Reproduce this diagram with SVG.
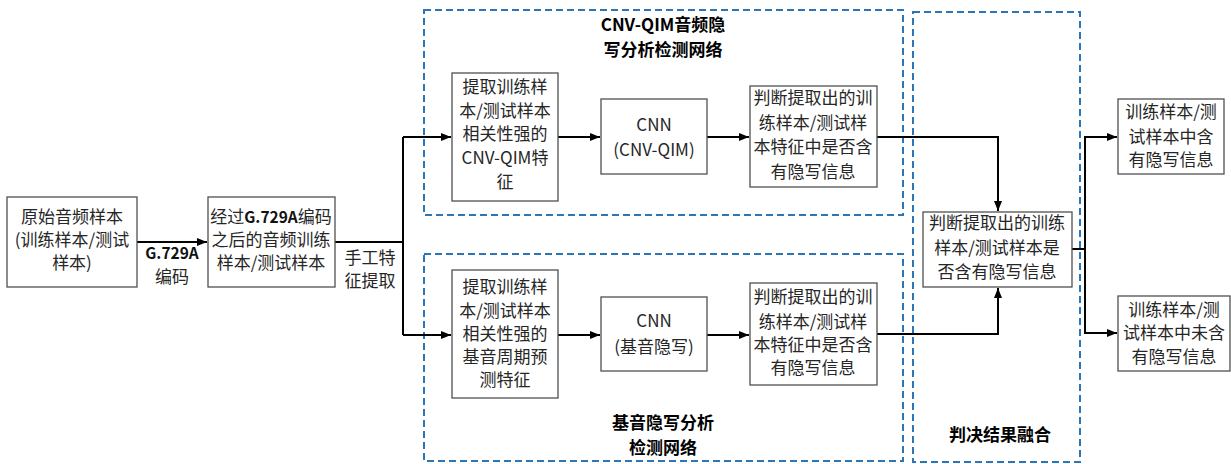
<svg xmlns="http://www.w3.org/2000/svg" width="1231" height="464" viewBox="0 0 1231 464">
<defs>
<style>
.box{fill:#fff;stroke:#505050;stroke-width:1.3}
.grp{fill:none;stroke:#2e75b6;stroke-width:2;stroke-dasharray:7 4}
.t{font-family:"Noto Sans CJK SC","Noto Sans",sans-serif;font-size:17px;fill:#262626;text-anchor:middle}
.b{font-weight:bold;fill:#000}
.g{font-weight:bold;fill:#111;font-size:15.5px}
.c{fill:none;stroke:#000;stroke-width:2}
</style>
<marker id="ah" markerWidth="10" markerHeight="8" refX="10" refY="4" orient="auto" markerUnits="userSpaceOnUse">
<path d="M0,0 L10,4 L0,8 Z" fill="#000"/>
</marker>
</defs>
<rect width="1231" height="464" fill="#fff"/>

<g id="group-cnv">
<rect class="grp" x="424" y="10" width="479" height="205"/>
<text class="t b" x="663" y="31">CNV-QIM音频隐</text>
<text class="t b" x="663" y="56">写分析检测网络</text>
</g>
<g id="group-pitch">
<rect class="grp" x="424" y="254" width="479" height="207"/>
<text class="t b" x="663" y="429">基音隐写分析</text>
<text class="t b" x="663" y="454">检测网络</text>
</g>
<g id="group-fusion">
<rect class="grp" x="913" y="12" width="167" height="450"/>
<text class="t b" x="1000" y="441">判决结果融合</text>
</g>

<g id="connectors">
<line class="c" x1="137" y1="242" x2="207" y2="242" marker-end="url(#ah)"/>
<line class="c" x1="335" y1="242" x2="403" y2="242"/>
<polyline class="c" points="403,137 403,335"/>
<line class="c" x1="403" y1="137" x2="451" y2="137" marker-end="url(#ah)"/>
<line class="c" x1="403" y1="335" x2="451" y2="335" marker-end="url(#ah)"/>
<line class="c" x1="558" y1="137" x2="600" y2="137" marker-end="url(#ah)"/>
<line class="c" x1="707" y1="137" x2="749" y2="137" marker-end="url(#ah)"/>
<line class="c" x1="558" y1="335" x2="600" y2="335" marker-end="url(#ah)"/>
<line class="c" x1="707" y1="335" x2="749" y2="335" marker-end="url(#ah)"/>
<polyline class="c" points="877,137 998,137 998,211" marker-end="url(#ah)"/>
<polyline class="c" points="877,334 998,334 998,288" marker-end="url(#ah)"/>
<line class="c" x1="1072" y1="249" x2="1085" y2="249"/>
<polyline class="c" points="1116,137 1085,137 1085,333 1116,333"/>
<line class="c" x1="1085" y1="137" x2="1117" y2="137" marker-end="url(#ah)"/>
<line class="c" x1="1085" y1="333" x2="1117" y2="333" marker-end="url(#ah)"/>
<text class="t g" x="172" y="259">G.729A</text>
<text class="t" x="172" y="283">编码</text>
<text class="t" x="370" y="264">手工特</text>
<text class="t" x="370" y="287">征提取</text>
</g>

<g id="n-original">
<rect class="box" x="7" y="197" width="130" height="90"/>
<text class="t" x="72" y="223">原始音频样本</text>
<text class="t" x="72" y="246">(训练样本/测试</text>
<text class="t" x="72" y="269">样本)</text>
</g>
<g id="n-encoded">
<rect class="box" x="208" y="197" width="127" height="90"/>
<text class="t" x="271" y="223">经过<tspan class="g">G.729A</tspan>编码</text>
<text class="t" x="271" y="246">之后的音频训练</text>
<text class="t" x="271" y="269">样本/测试样本</text>
</g>

<g id="n-cnv-feat">
<rect class="box" x="452" y="73" width="106" height="128"/>
<text class="t" x="505" y="93">提取训练样</text>
<text class="t" x="505" y="117">本/测试样本</text>
<text class="t" x="505" y="140">相关性强的</text>
<text class="t" x="505" y="164">CNV-QIM特</text>
<text class="t" x="505" y="188">征</text>
</g>
<g id="n-cnv-cnn">
<rect class="box" x="601" y="99" width="106" height="75"/>
<text class="t" x="654" y="131">CNN</text>
<text class="t" x="654" y="156">(CNV-QIM)</text>
</g>
<g id="n-cnv-judge">
<rect class="box" x="750" y="86" width="127" height="101"/>
<text class="t" x="813" y="104">判断提取出的训</text>
<text class="t" x="813" y="129">练样本/测试样</text>
<text class="t" x="813" y="153">本特征中是否含</text>
<text class="t" x="813" y="178">有隐写信息</text>
</g>

<g id="n-pitch-feat">
<rect class="box" x="452" y="270" width="106" height="128"/>
<text class="t" x="505" y="293">提取训练样</text>
<text class="t" x="505" y="317">本/测试样本</text>
<text class="t" x="505" y="340">相关性强的</text>
<text class="t" x="505" y="363">基音周期预</text>
<text class="t" x="505" y="386">测特征</text>
</g>
<g id="n-pitch-cnn">
<rect class="box" x="601" y="297" width="106" height="74"/>
<text class="t" x="654" y="327">CNN</text>
<text class="t" x="654" y="353">(基音隐写)</text>
</g>
<g id="n-pitch-judge">
<rect class="box" x="750" y="283" width="127" height="102"/>
<text class="t" x="813" y="303">判断提取出的训</text>
<text class="t" x="813" y="328">练样本/测试样</text>
<text class="t" x="813" y="351">本特征中是否含</text>
<text class="t" x="813" y="374">有隐写信息</text>
</g>

<g id="n-fusion">
<rect class="box" x="923" y="212" width="149" height="75"/>
<text class="t" x="997" y="229">判断提取出的训练</text>
<text class="t" x="997" y="254">样本/测试样本是</text>
<text class="t" x="997" y="278">否含有隐写信息</text>
</g>
<g id="n-has">
<rect class="box" x="1118" y="99" width="106" height="75"/>
<text class="t" x="1171" y="118">训练样本/测</text>
<text class="t" x="1171" y="143">试样本中含</text>
<text class="t" x="1171" y="166">有隐写信息</text>
</g>
<g id="n-none">
<rect class="box" x="1118" y="296" width="112" height="75"/>
<text class="t" x="1174" y="316">训练样本/测</text>
<text class="t" x="1174" y="339">试样本中未含</text>
<text class="t" x="1174" y="363">有隐写信息</text>
</g>
</svg>
